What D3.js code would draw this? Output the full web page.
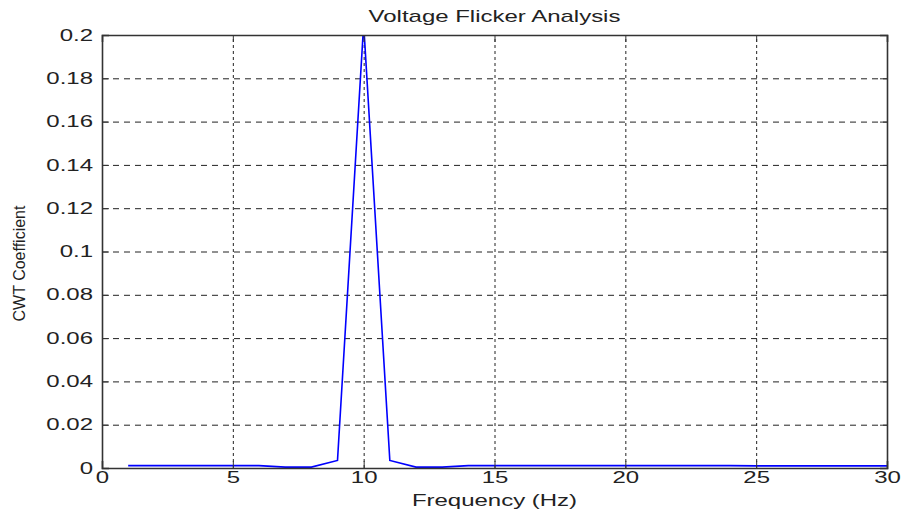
<!DOCTYPE html>
<html lang="en">
<head>
  <meta charset="UTF-8">
  <title>Voltage Flicker Analysis</title>
  <script src="https://d3js.org/d3.v7.min.js"></script>
  <style>
    body {
      margin: 0;
      background: #fff;
    }
    svg text {
      font-family: "Liberation Sans", Arial, sans-serif;
      fill: #222;
    }
    .grid line {
      stroke: #222;
      stroke-width: 1;
    }
    .grid path {
      display: none;
    }
  </style>
</head>
<body>
  <svg width="901" height="521"></svg>

  <script>
    // data
    const freq = [1, 2, 3, 4, 5, 6, 7, 8, 9, 10, 11, 12, 13, 14, 15,
                  16, 17, 18, 19, 20, 21, 22, 23, 24, 25, 26, 27, 28, 29, 30];
    const coef = [0.0011, 0.0011, 0.0011, 0.0011, 0.0011, 0.0011, 0.0004, 0.0004, 0.0035, 0.205,
                  0.0035, 0.0004, 0.0004, 0.0011, 0.0011, 0.0011, 0.0011, 0.0011, 0.0011, 0.0011,
                  0.0011, 0.0011, 0.0011, 0.0011, 0.0010, 0.0010, 0.0010, 0.0010, 0.0010, 0.0010];
    const xTicks = [0, 5, 10, 15, 20, 25, 30];
    const yTicks = [0, 0.02, 0.04, 0.06, 0.08, 0.1, 0.12, 0.14, 0.16, 0.18, 0.2];

    const sx = 1.5; // glyphs in the picture are stretched sideways
    const svg = d3.select("svg"),
          margin = {top: 35, right: 14, bottom: 53, left: 102},
          width = +svg.attr("width") - margin.left - margin.right,
          height = +svg.attr("height") - margin.top - margin.bottom,
          chart = svg.append("g").attr("transform", `translate(${margin.left},${margin.top})`);

    const x = d3.scaleLinear().domain([0, 30]).range([0, width]);
    const y = d3.scaleLinear().domain([0, 0.2]).range([height, 0]);

    // grid
    chart.append("g")
      .attr("class", "grid")
      .call(d3.axisLeft(y).tickValues(yTicks.slice(1, -1)).tickSize(-width).tickFormat(""))
      .selectAll("line").attr("stroke-dasharray", "6,5");

    chart.append("g")
      .attr("class", "grid")
      .attr("transform", `translate(0,${height})`)
      .call(d3.axisBottom(x).tickValues(xTicks.slice(1, -1)).tickSize(-height).tickFormat(""))
      .selectAll("line").attr("stroke-dasharray", "3,3").attr("stroke-width", 1.6);

    // line
    svg.append("clipPath").attr("id", "clip")
      .append("rect").attr("width", width).attr("height", height);

    chart.append("path")
      .datum(freq.map((f, i) => [f, coef[i]]))
      .attr("clip-path", "url(#clip)")
      .attr("fill", "none")
      .attr("stroke", "#0000ff")
      .attr("stroke-width", 1.6)
      .attr("d", d3.line().x(d => x(d[0])).y(d => y(d[1])));

    // axes with inward ticks
    const fmtY = d => d === 0 ? "0" : d3.format("~g")(d);

    const yAxis = chart.append("g")
      .call(d3.axisLeft(y).tickValues(yTicks).tickSize(-7).tickPadding(8).tickFormat(fmtY));
    yAxis.selectAll("text")
      .attr("x", -9 / sx)
      .attr("transform", `scale(${sx},1)`)
      .style("font-size", "16px");

    const xAxis = chart.append("g")
      .attr("transform", `translate(0,${height})`)
      .call(d3.axisBottom(x).tickValues(xTicks).tickSize(-7).tickPadding(4));
    xAxis.selectAll("text")
      .attr("transform", `scale(${sx},1)`)
      .style("font-size", "16px");

    chart.append("g")
      .call(d3.axisTop(x).tickValues(xTicks).tickSize(-7).tickFormat(""));
    chart.append("g")
      .attr("transform", `translate(${width},0)`)
      .call(d3.axisRight(y).tickValues(yTicks).tickSize(-7).tickFormat(""));

    chart.selectAll(".domain").attr("stroke", "#333").attr("stroke-width", 1.6);
    chart.selectAll(".tick line").filter(function() { return !this.closest(".grid"); })
      .attr("stroke", "#333");

    // labels
    svg.append("text")
      .attr("transform", `translate(${margin.left + width / 2},22) scale(${sx},1)`)
      .attr("text-anchor", "middle")
      .style("font-size", "16px")
      .text("Voltage Flicker Analysis");

    svg.append("text")
      .attr("transform", `translate(${margin.left + width / 2},506) scale(${sx},1)`)
      .attr("text-anchor", "middle")
      .style("font-size", "16px")
      .text("Frequency (Hz)");

    svg.append("text")
      .attr("transform", `translate(25,${margin.top + height / 2 + 12}) rotate(-90)`)
      .attr("text-anchor", "middle")
      .style("font-size", "16px")
      .text("CWT Coefficient");
  </script>
</body>
</html>
